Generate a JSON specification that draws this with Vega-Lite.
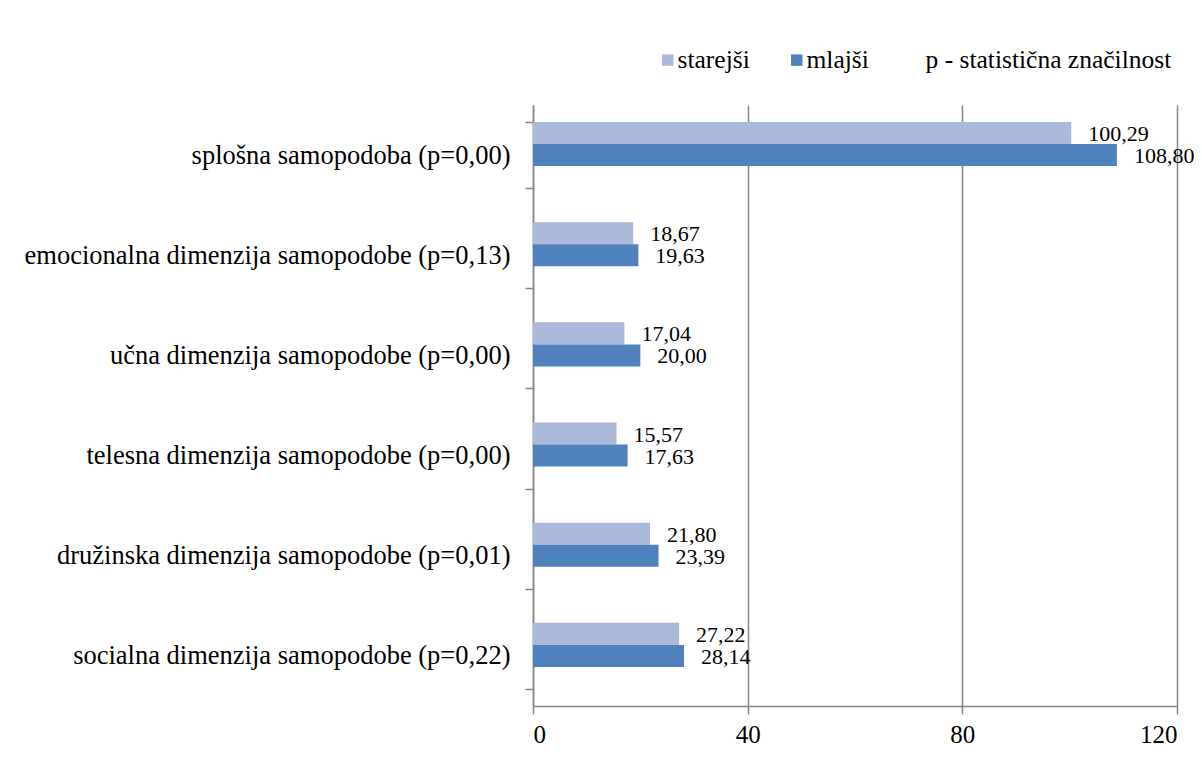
{
  "$schema": "https://vega.github.io/schema/vega-lite/v6.json",
  "autosize": {"type": "none"},
  "padding": {"left": 533, "top": 105, "right": 25, "bottom": 61},
  "width": 644,
  "height": 601,
  "background": "white",
  "config": {
    "font": "Liberation Serif, Times New Roman, serif",
    "axis": {"labelFont": "Liberation Serif, Times New Roman, serif"},
    "legend": {"labelFont": "Liberation Serif, Times New Roman, serif"},
    "text": {"font": "Liberation Serif, Times New Roman, serif"},
    "view": {"stroke": null},
    "locale": {
      "number": {"decimal": ",", "thousands": ".", "grouping": [3], "currency": ["", " €"]}
    }
  },
  "data": {
    "values": [
      {"kategorija": "splošna samopodoba (p=0,00)", "skupina": "starejši", "vrednost": 100.29},
      {"kategorija": "splošna samopodoba (p=0,00)", "skupina": "mlajši", "vrednost": 108.80},
      {"kategorija": "emocionalna dimenzija samopodobe (p=0,13)", "skupina": "starejši", "vrednost": 18.67},
      {"kategorija": "emocionalna dimenzija samopodobe (p=0,13)", "skupina": "mlajši", "vrednost": 19.63},
      {"kategorija": "učna dimenzija samopodobe (p=0,00)", "skupina": "starejši", "vrednost": 17.04},
      {"kategorija": "učna dimenzija samopodobe (p=0,00)", "skupina": "mlajši", "vrednost": 20.00},
      {"kategorija": "telesna dimenzija samopodobe (p=0,00)", "skupina": "starejši", "vrednost": 15.57},
      {"kategorija": "telesna dimenzija samopodobe (p=0,00)", "skupina": "mlajši", "vrednost": 17.63},
      {"kategorija": "družinska dimenzija samopodobe (p=0,01)", "skupina": "starejši", "vrednost": 21.80},
      {"kategorija": "družinska dimenzija samopodobe (p=0,01)", "skupina": "mlajši", "vrednost": 23.39},
      {"kategorija": "socialna dimenzija samopodobe (p=0,22)", "skupina": "starejši", "vrednost": 27.22},
      {"kategorija": "socialna dimenzija samopodobe (p=0,22)", "skupina": "mlajši", "vrednost": 28.14}
    ]
  },
  "encoding": {
    "y": {
      "field": "kategorija",
      "type": "nominal",
      "sort": null,
      "scale": {"paddingInner": 0.34, "paddingOuter": 0.17},
      "axis": {
        "title": null,
        "labelFont": "Liberation Serif, Times New Roman, serif",
        "labelFontSize": 26.5,
        "labelColor": "black",
        "labelLimit": 0,
        "labelPadding": 15,
        "tickBand": "extent",
        "tickSize": 8,
        "tickColor": "#868686",
        "tickWidth": 1.5,
        "domainColor": "#868686",
        "domainWidth": 1.5
      }
    },
    "yOffset": {
      "field": "skupina",
      "type": "nominal",
      "scale": {"domain": ["starejši", "mlajši", "p - statistična značilnost"], "paddingInner": 0, "paddingOuter": 0}
    },
    "x": {
      "field": "vrednost",
      "type": "quantitative",
      "scale": {"domain": [0, 120], "nice": false},
      "axis": {
        "title": null,
        "values": [0, 40, 80, 120],
        "labelFont": "Liberation Serif, Times New Roman, serif",
        "labelFontSize": 25,
        "labelColor": "black",
        "labelPadding": 8,
        "tickSize": 8,
        "tickColor": "#868686",
        "tickWidth": 1.5,
        "domainColor": "#868686",
        "domainWidth": 1.5,
        "grid": true,
        "gridColor": "#868686",
        "gridWidth": 1.5
      }
    }
  },
  "layer": [
    {
      "mark": {"type": "bar"},
      "encoding": {
        "color": {
          "field": "skupina",
          "type": "nominal",
          "scale": {
            "domain": ["starejši", "mlajši", "p - statistična značilnost"],
            "range": ["#aab9d9", "#4f81bd", "transparent"]
          },
          "legend": {
            "title": null,
            "orient": "none",
            "direction": "horizontal",
            "legendX": 122,
            "legendY": -58,
            "padding": 0,
            "symbolType": "square",
            "symbolSize": 130,
            "symbolStrokeWidth": 0,
            "symbolOpacity": 1,
            "labelFont": "Liberation Serif, Times New Roman, serif",
            "labelFontSize": 25.5,
            "labelColor": "black",
            "labelOffset": -3,
            "columnPadding": 34,
            "labelLimit": 0
          }
        }
      }
    },
    {
      "mark": {"type": "text", "align": "left", "baseline": "middle", "dx": 17, "dy": 1, "fontSize": 22, "font": "Liberation Serif, Times New Roman, serif", "color": "black"},
      "encoding": {
        "text": {"field": "vrednost", "type": "quantitative", "format": ".2f"}
      }
    }
  ]
}
